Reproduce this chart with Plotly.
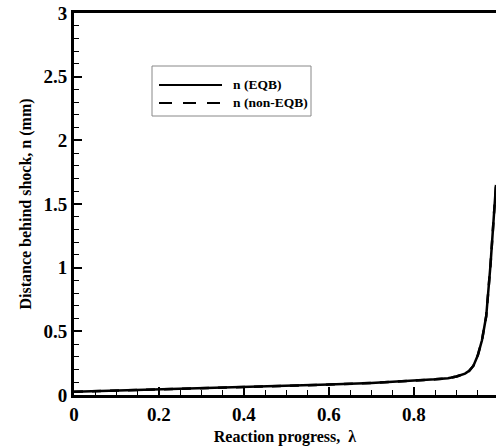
import plotly.graph_objects as go

# Data
lam = [0.0, 0.1, 0.2, 0.3, 0.4, 0.5, 0.6, 0.7, 0.8, 0.85, 0.88, 0.9, 0.92, 0.93,
       0.94, 0.95, 0.96, 0.97, 0.98, 0.99, 0.993]
n_eqb = [0.025, 0.034, 0.043, 0.052, 0.061, 0.071, 0.082, 0.095, 0.112, 0.123,
         0.132, 0.145, 0.168, 0.19, 0.23, 0.31, 0.43, 0.62, 1.02, 1.52, 1.65]
n_neq = list(n_eqb)

legend_names = ["n (EQB)", "n (non-EQB)"]
x_ticks = [0, 0.2, 0.4, 0.6, 0.8]
y_ticks = [0, 0.5, 1, 1.5, 2, 2.5, 3]

FONT = "Liberation Serif"
W, H = 496, 446
ML, MT, MB, MR = 74, 13, 51, 0
PW, PH = W - ML - MR, H - MT - MB

def px(x):
    return (x - ML) / PW

def py(y):
    return (H - MB - y) / PH

fig = go.Figure()
fig.add_trace(go.Scatter(x=lam, y=n_eqb, mode="lines", name=legend_names[0],
                         line=dict(color="black", width=2.5), showlegend=False))
fig.add_trace(go.Scatter(x=lam, y=n_neq, mode="lines", name=legend_names[1],
                         line=dict(color="black", width=2.5, dash="dash"), showlegend=False))

axis_common = dict(
    showgrid=False, zeroline=False, showline=True, linecolor="black", linewidth=2.8,
    ticks="inside", ticklen=8, tickwidth=1.5, tickcolor="black",
    tickfont=dict(family=FONT, size=19, color="black", weight="bold"),
)

fig.update_xaxes(range=[0, 0.993], tickvals=x_ticks, ticktext=[f"{v:g}" for v in x_ticks],
                 mirror=True,
                 minor=dict(ticks="inside", ticklen=5, tickwidth=1, tickcolor="black", dtick=0.05),
                 title=dict(text="Reaction progress,  λ", standoff=8,
                            font=dict(family=FONT, size=16, color="black", weight="bold")),
                 **axis_common)
fig.update_yaxes(range=[0, 3], tickvals=y_ticks, ticktext=[f"{v:g}" for v in y_ticks],
                 minor=dict(ticks="inside", ticklen=5, tickwidth=1, tickcolor="black", dtick=0.1),
                 title=dict(text="Distance behind shock, n (mm)", standoff=8,
                            font=dict(family=FONT, size=16, color="black", weight="bold")),
                 **axis_common)

# partially visible "1" tick label at right edge
fig.add_annotation(x=1.0, xref="x", y=0, yref="paper", yanchor="top", yshift=-5,
                   text="1", showarrow=False,
                   font=dict(family=FONT, size=19, color="black", weight="bold"))

# manual legend box
fig.add_shape(type="rect", xref="paper", yref="paper",
              x0=px(152), x1=px(311), y0=py(116), y1=py(66),
              line=dict(color="#888888", width=1), fillcolor="white")
fig.add_shape(type="line", xref="paper", yref="paper",
              x0=px(159), x1=px(222), y0=py(85), y1=py(85),
              line=dict(color="black", width=2))
fig.add_shape(type="line", xref="paper", yref="paper",
              x0=px(159), x1=px(222), y0=py(103), y1=py(103),
              line=dict(color="black", width=2, dash="13px,11px"))
for name, yy in zip(legend_names, [85, 103]):
    fig.add_annotation(x=px(231), y=py(yy), xref="paper", yref="paper",
                       xanchor="left", yanchor="middle", text=name, showarrow=False,
                       font=dict(family=FONT, size=13.5, color="black", weight="bold"))

fig.update_layout(width=W, height=H, margin=dict(l=ML, r=MR, t=MT, b=MB),
                  paper_bgcolor="white", plot_bgcolor="white", showlegend=False)

fig.write_html("out.html")
